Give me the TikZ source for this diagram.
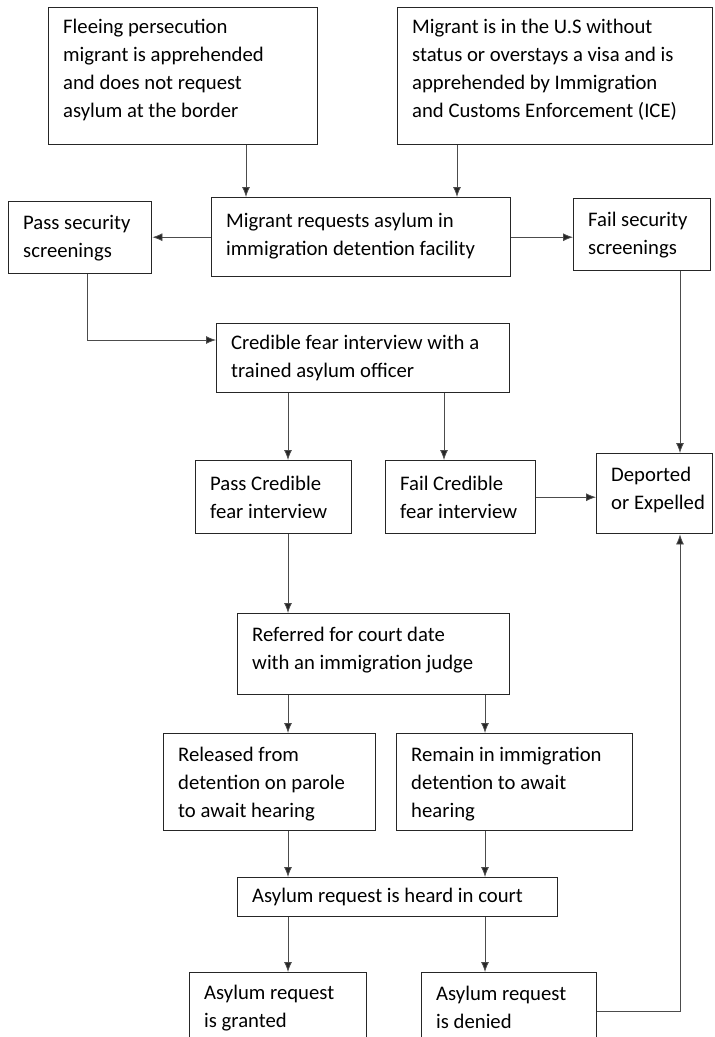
\documentclass[tikz,border=0pt]{standalone}
\usepackage{fontspec}
\setmainfont{Carlito}
\usetikzlibrary{arrows.meta}
\tikzset{
  box/.style={draw=black!85, line width=1.4pt, inner sep=0pt, anchor=north west},
  txt/.style={anchor=west, align=left, inner sep=0pt, font=\fontsize{20.7}{28}\selectfont},
  arr/.style={draw=black!70, line width=0.8pt, -{Latex[length=10pt,width=8pt,fill=black!85]}},
}
\newcommand\bx[7]{%
  \node[box, minimum width=#4pt, minimum height=#5pt] (#1) at (#2,#3) {};
  \node[txt] (#1t) at ([xshift=15pt,yshift=#6pt]#1.west) {#7};}
\begin{document}
\begin{tikzpicture}[x=1pt,y=-1pt]
\useasboundingbox (0,0) rectangle (715,1037);
\coordinate (xA) at (246,0);
\coordinate (xB) at (457,0);
\coordinate (xC) at (87,0);
\coordinate (xD) at (680,0);
\coordinate (xE) at (288,0);
\coordinate (xF) at (444,0);
\coordinate (xG) at (485,0);
\coordinate (yP) at (0,340);
\coordinate (yQ) at (0,1011);

\bx{b1}{48}{7}{269}{137}{6}{Fleeing persecution\\migrant is apprehended\\and does not request\\asylum at the border}
\bx{b2}{397}{7}{315}{137}{6}{Migrant is in the U.S without\\status or overstays a visa and is\\apprehended by Immigration\\and Customs Enforcement (ICE)}
\bx{b3}{211}{197}{299}{79}{1}{Migrant requests asylum in\\immigration detention facility}
\bx{b4}{8}{201}{143}{72}{0}{Pass security\\screenings}
\bx{b5}{573}{198}{137}{72}{0}{Fail security\\screenings}
\bx{b6}{216}{323}{293}{69}{0}{Credible fear interview with a\\trained asylum officer}
\bx{b7}{195}{460}{156}{73}{0}{Pass Credible\\fear interview}
\bx{b8}{385}{460}{150}{73}{0}{Fail Credible\\fear interview}
\bx{b9}{596}{453}{116}{80}{4}{Deported\\or Expelled}
\bx{b10}{237}{613}{272}{81}{4}{Referred for court date\\with an immigration judge}
\bx{b11}{163}{733}{212}{97}{-2}{Released from\\detention on parole\\to await hearing}
\bx{b12}{396}{733}{236}{97}{-2}{Remain in immigration\\detention to await\\hearing}
\bx{b13}{237}{877}{320}{39}{0}{Asylum request is heard in court}
\bx{b14}{189}{972}{177}{70}{0}{Asylum request\\is granted}
\bx{b15}{421}{972}{175}{70}{0}{Asylum request\\is denied}

\draw[arr] (b1.south -| xA) -- (b3.north -| xA);
\draw[arr] (b2.south -| xB) -- (b3.north -| xB);
\draw[arr] (b3.west) -- (b3.west -| b4.east);
\draw[arr] (b3.east) -- (b3.east -| b5.west);
\draw[arr] (b4.south -| xC) |- (b6.west |- yP);
\draw[arr] (b5.south -| xD) -- (b9.north -| xD);
\draw[arr] (b6.south -| xE) -- (b7.north -| xE);
\draw[arr] (b6.south -| xF) -- (b8.north -| xF);
\draw[arr] (b8.east) -- (b8.east -| b9.west);
\draw[arr] (b7.south -| xE) -- (b10.north -| xE);
\draw[arr] (b10.south -| xE) -- (b11.north -| xE);
\draw[arr] (b10.south -| xG) -- (b12.north -| xG);
\draw[arr] (b11.south -| xE) -- (b13.north -| xE);
\draw[arr] (b12.south -| xG) -- (b13.north -| xG);
\draw[arr] (b13.south -| xE) -- (b14.north -| xE);
\draw[arr] (b13.south -| xG) -- (b15.north -| xG);
\draw[arr] (b15.east |- yQ) -| (b9.south -| xD);
\end{tikzpicture}
\end{document}
